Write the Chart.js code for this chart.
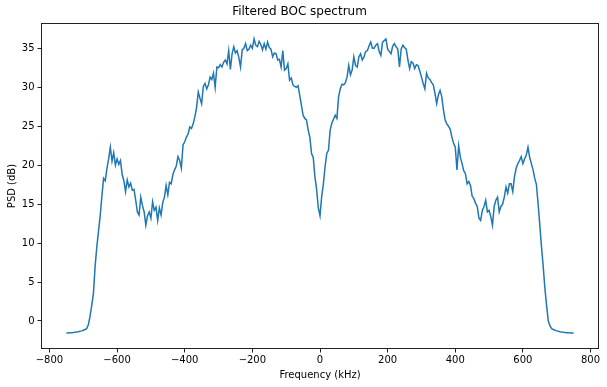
<!DOCTYPE html>
<html>
<head>
<meta charset="utf-8">
<script src="https://cdn.jsdelivr.net/npm/chart.js@4/dist/chart.umd.min.js"></script>
<style>
  html, body { margin: 0; padding: 0; background: #fff; }
  canvas { display: block; }
</style>
</head>
<body>
<canvas id="psd" width="607" height="387"></canvas>
<script>
// frequency grid (kHz)
const freqKHz = [
  -750, -745, -740, -735, -730, -725, -720, -715, -710, -705,
  -700, -695, -690, -685, -680, -675, -670, -665, -660, -655,
  -650, -645, -640, -635, -630, -625, -620, -615, -610, -605,
  -600, -595, -590, -585, -580, -575, -570, -565, -560, -555,
  -550, -545, -540, -535, -530, -525, -520, -515, -510, -505,
  -500, -495, -490, -485, -480, -475, -470, -465, -460, -455,
  -450, -445, -440, -435, -430, -425, -420, -415, -410, -405,
  -400, -395, -390, -385, -380, -375, -370, -365, -360, -355,
  -350, -345, -340, -335, -330, -325, -320, -315, -310, -305,
  -300, -295, -290, -285, -280, -275, -270, -265, -260, -255,
  -250, -245, -240, -235, -230, -225, -220, -215, -210, -205,
  -200, -195, -190, -185, -180, -175, -170, -165, -160, -155,
  -150, -145, -140, -135, -130, -125, -120, -115, -110, -105,
  -100, -95, -90, -85, -80, -75, -70, -65, -60, -55,
  -50, -45, -40, -35, -30, -25, -20, -15, -10, -5,
  0,
  5, 10, 15, 20, 25, 30, 35, 40, 45, 50,
  55, 60, 65, 70, 75, 80, 85, 90, 95, 100,
  105, 110, 115, 120, 125, 130, 135, 140, 145, 150,
  155, 160, 165, 170, 175, 180, 185, 190, 195, 200,
  205, 210, 215, 220, 225, 230, 235, 240, 245, 250,
  255, 260, 265, 270, 275, 280, 285, 290, 295, 300,
  305, 310, 315, 320, 325, 330, 335, 340, 345, 350,
  355, 360, 365, 370, 375, 380, 385, 390, 395, 400,
  405, 410, 415, 420, 425, 430, 435, 440, 445, 450,
  455, 460, 465, 470, 475, 480, 485, 490, 495, 500,
  505, 510, 515, 520, 525, 530, 535, 540, 545, 550,
  555, 560, 565, 570, 575, 580, 585, 590, 595, 600,
  605, 610, 615, 620, 625, 630, 635, 640, 645, 650,
  655, 660, 665, 670, 675, 680, 685, 690, 695, 700,
  705, 710, 715, 720, 725, 730, 735, 740, 745, 750
];

// PSD (dB)
const psdDb = [
  -1.55, -1.55, -1.52, -1.50, -1.48, -1.45, -1.42, -1.38, -1.33, -1.27,
  -1.20, -1.10, -1.00, -0.5, 0.6, 2.0, 3.5, 7.0, 9.5, 11.5,
  13.5, 16.0, 18.3, 18.0, 19.6, 20.8, 22.3, 20.5, 21.6, 20.0,
  20.8, 20.1, 20.6, 18.8, 18.0, 16.6, 18.1, 17.2, 17.7, 16.8,
  16.9, 15.5, 14.0, 13.6, 15.9, 14.8, 14.0, 12.3, 13.5, 14.0,
  13.2, 15.3, 14.2, 14.6, 12.9, 14.5, 13.6, 15.2, 15.9, 17.4,
  16.2, 17.8, 17.6, 18.8, 19.4, 19.9, 21.1, 20.6, 19.6, 22.6,
  23.0, 23.6, 24.0, 24.9, 24.7, 25.3, 26.2, 27.4, 29.4, 28.6,
  27.9, 30.1, 30.5, 29.8, 30.3, 31.3, 31.0, 31.8, 30.0, 32.6,
  32.5, 32.9, 32.6, 33.2, 33.5, 33.0, 34.7, 32.3, 34.3, 35.2,
  34.4, 34.7, 33.8, 32.6, 34.8, 35.0, 35.6, 34.7, 34.9, 35.4,
  35.0, 36.2, 35.4, 35.2, 35.9, 35.5, 34.8, 35.6, 34.9, 35.8,
  35.1, 34.9, 33.9, 34.4, 34.3, 33.5, 33.6, 32.6, 34.7, 32.2,
  32.4, 33.0, 30.9, 31.2, 30.3, 30.1, 30.0, 30.2, 29.0, 27.7,
  26.4, 26.0, 25.8, 24.5, 23.6, 21.5, 21.0, 18.5, 16.9, 14.5,
  13.5,
  16.0, 17.6, 19.8, 21.5, 21.9, 24.5, 25.4, 25.9, 26.4, 26.0,
  28.8, 29.8, 30.4, 30.3, 30.6, 31.3, 32.8, 31.6, 32.2, 33.9,
  32.8, 32.6, 33.9, 34.3, 33.5, 33.9, 34.6, 34.7, 35.3, 35.8,
  35.0, 35.0, 35.4, 35.6, 34.6, 34.1, 35.8, 36.0, 36.2, 34.9,
  34.6, 34.3, 35.3, 35.6, 35.2, 34.9, 32.6, 34.9, 35.4, 35.1,
  34.9, 33.5, 32.4, 33.3, 33.1, 32.4, 32.9, 32.8, 32.1, 31.3,
  30.5, 29.8, 31.8, 31.2, 31.0, 30.6, 30.3, 29.2, 27.9, 29.0,
  29.6, 28.8, 27.1, 25.8, 25.3, 25.0, 24.6, 23.6, 22.8, 22.3,
  19.4, 22.5, 21.0, 20.2, 19.3, 18.9, 17.6, 17.9, 17.4, 16.0,
  15.7, 15.1, 14.7, 13.2, 12.9, 14.2, 14.7, 15.5, 14.0, 14.2,
  13.4, 12.3, 14.7, 15.5, 15.9, 14.0, 14.7, 15.0, 15.9, 17.2,
  16.4, 17.6, 17.6, 16.6, 18.5, 19.6, 20.2, 20.6, 21.1, 20.2,
  20.8, 21.3, 22.3, 21.0, 20.2, 19.4, 18.3, 17.5, 15.0, 12.3,
  9.5, 7.0, 4.2, 2.0, 0.0, -0.6, -1.00, -1.10, -1.20, -1.27,
  -1.33, -1.38, -1.42, -1.45, -1.48, -1.50, -1.52, -1.54, -1.55, -1.55
];

const xTicks = [-800, -600, -400, -200, 0, 200, 400, 600, 800];
const yTicks = [0, 5, 10, 15, 20, 25, 30, 35];

const FONT = "'DejaVu Sans', sans-serif";

// matplotlib-like box around the axes
const axesFrame = {
    id: "axesFrame",
    afterDatasetsDraw(chart) {
        const { ctx, chartArea: a } = chart;
        ctx.save();
        ctx.strokeStyle = "#222";
        ctx.lineWidth = 1;
        ctx.strokeRect(Math.round(a.left) + 0.5, Math.round(a.top) + 0.5,
            Math.round(a.right - a.left) - 1, Math.round(a.bottom - a.top) - 1);
        ctx.restore();
    }
};

const points = freqKHz.map((f, i) => ({ x: f, y: psdDb[i] }));

new Chart(document.getElementById("psd"), {
    type: "line",
    data: {
        datasets: [{
            data: points,
            borderColor: "#1f77b4",
            borderWidth: 1.5,
            pointRadius: 0,
            tension: 0,
            fill: false
        }]
    },
    options: {
        responsive: false,
        animation: false,
        layout: { padding: { left: 0, right: 8, top: 0, bottom: 0 } },
        plugins: {
            legend: { display: false },
            tooltip: { enabled: false },
            title: {
                display: true,
                text: "Filtered BOC spectrum",
                color: "#000",
                font: { family: FONT, size: 12, weight: "normal" },
                padding: { top: 4.8, bottom: 3.8 }
            }
        },
        scales: {
            x: {
                type: "linear",
                min: -825,
                max: 825,
                afterBuildTicks: s => { s.ticks = xTicks.map(v => ({ value: v })); },
                afterFit: s => { s.height = 38; },
                border: { display: false },
                grid: { display: true, drawOnChartArea: false, drawTicks: true, tickLength: 3.5, color: "#222" },
                ticks: { color: "#000", padding: 2, maxRotation: 0, font: { family: FONT, size: 10 },
                    callback: v => String(v).replace("-", "\u2212") },
                title: { display: true, text: "Frequency (kHz)", color: "#000",
                    font: { family: FONT, size: 10 }, padding: { top: 6, bottom: 6 } }
            },
            y: {
                type: "linear",
                min: -3.6,
                max: 38.25,
                afterBuildTicks: s => { s.ticks = yTicks.map(v => ({ value: v })); },
                afterFit: s => { s.width = 41; },
                border: { display: false },
                grid: { display: true, drawOnChartArea: false, drawTicks: true, tickLength: 3.5, color: "#222" },
                ticks: { color: "#000", padding: 3, font: { family: FONT, size: 10 } },
                title: { display: true, text: "PSD (dB)", color: "#000",
                    font: { family: FONT, size: 10 }, padding: { top: 6, bottom: 6 } }
            }
        }
    },
    plugins: [axesFrame]
});
</script>
</body>
</html>
